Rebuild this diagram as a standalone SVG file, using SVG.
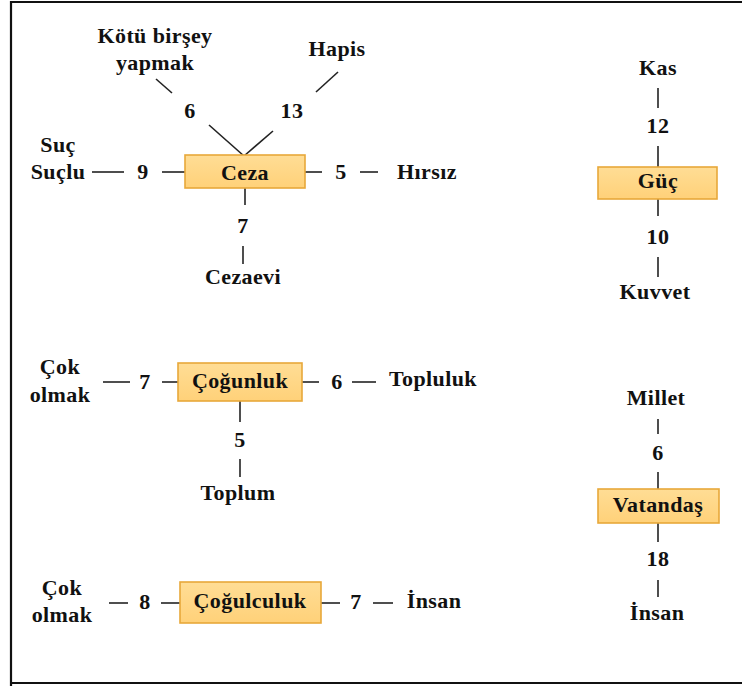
<svg xmlns="http://www.w3.org/2000/svg" width="742" height="686" viewBox="0 0 742 686">
<defs>
<linearGradient id="g" x1="0" y1="0" x2="0" y2="1">
<stop offset="0" stop-color="#FFDD95"/>
<stop offset="1" stop-color="#FFD179"/>
</linearGradient>
</defs>
<style>
text{font-family:'Liberation Serif','Times New Roman',serif;font-weight:bold;font-size:22px;letter-spacing:0.4px;fill:#111;text-anchor:middle}
.box{fill:url(#g);stroke:#E8A83A;stroke-width:1.6}
#connectors line{stroke:#222;stroke-width:1.6}
</style>
<rect x="0" y="0" width="742" height="686" fill="#fff"/>
<path d="M11,686 V2 H742 M11,683 H742" fill="none" stroke="#111" stroke-width="2.2"/>
<g id="connectors">
<line x1="156" y1="79" x2="172" y2="93"/>
<line x1="338" y1="72" x2="316" y2="92"/>
<line x1="209" y1="125" x2="244" y2="156"/>
<line x1="273" y1="131" x2="244" y2="156"/>
<line x1="92" y1="172" x2="124" y2="172"/>
<line x1="162" y1="172" x2="185" y2="172"/>
<line x1="305" y1="172" x2="322" y2="172"/>
<line x1="360" y1="172" x2="378" y2="172"/>
<line x1="245" y1="188" x2="245" y2="205"/>
<line x1="243" y1="246" x2="243" y2="264"/>
<line x1="658" y1="88" x2="658" y2="108"/>
<line x1="658" y1="146" x2="658" y2="167"/>
<line x1="658" y1="199" x2="658" y2="216"/>
<line x1="658" y1="257" x2="658" y2="277"/>
<line x1="103" y1="382" x2="130" y2="382"/>
<line x1="162" y1="382" x2="178" y2="382"/>
<line x1="302" y1="382" x2="319" y2="382"/>
<line x1="352" y1="382" x2="376" y2="382"/>
<line x1="240" y1="401" x2="240" y2="422"/>
<line x1="240" y1="459" x2="240" y2="477"/>
<line x1="658" y1="419" x2="658" y2="434"/>
<line x1="658" y1="472" x2="658" y2="489"/>
<line x1="658" y1="523" x2="658" y2="542"/>
<line x1="658" y1="580" x2="658" y2="597"/>
<line x1="109" y1="603" x2="128" y2="603"/>
<line x1="161" y1="603" x2="180" y2="603"/>
<line x1="321" y1="603" x2="340" y2="603"/>
<line x1="373" y1="603" x2="393" y2="603"/>
</g>
<g id="ceza">
<rect class="box" x="185" y="155" width="120" height="33"/>
<text x="245" y="180">Ceza</text>
</g>
<g id="kotu"><text x="155" y="43">Kötü birşey</text><text x="155" y="70">yapmak</text></g>
<g id="hapis"><text x="337" y="56">Hapis</text></g>
<g id="suc"><text x="58" y="152">Suç</text><text x="58" y="179">Suçlu</text></g>
<g id="hirsiz"><text x="427" y="179">Hırsız</text></g>
<g id="cezaevi"><text x="243" y="284">Cezaevi</text></g>
<g id="w-ceza">
<text x="190" y="118">6</text>
<text x="292" y="118">13</text>
<text x="143" y="179">9</text>
<text x="341" y="179">5</text>
<text x="243" y="233">7</text>
</g>
<g id="guc">
<rect class="box" x="598" y="167" width="119" height="32"/>
<text x="658" y="188">Güç</text>
</g>
<g id="kas"><text x="658" y="75">Kas</text></g>
<g id="kuvvet"><text x="655" y="299">Kuvvet</text></g>
<g id="w-guc"><text x="658" y="133">12</text><text x="658" y="244">10</text></g>
<g id="cogunluk">
<rect class="box" x="178" y="363" width="124" height="38"/>
<text x="240" y="388">Çoğunluk</text>
</g>
<g id="cok1"><text x="60" y="374">Çok</text><text x="60" y="402">olmak</text></g>
<g id="topluluk"><text x="433" y="386">Topluluk</text></g>
<g id="toplum"><text x="238" y="500">Toplum</text></g>
<g id="w-cogunluk"><text x="145" y="389">7</text><text x="337" y="389">6</text><text x="240" y="447">5</text></g>
<g id="cogulculuk">
<rect class="box" x="180" y="582" width="141" height="41"/>
<text x="250" y="608">Çoğulculuk</text>
</g>
<g id="cok2"><text x="62" y="595">Çok</text><text x="62" y="622">olmak</text></g>
<g id="insan1"><text x="434" y="608">İnsan</text></g>
<g id="w-cogulculuk"><text x="145" y="609">8</text><text x="356" y="609">7</text></g>
<g id="vatandas">
<rect class="box" x="598" y="489" width="121" height="34"/>
<text x="658" y="512">Vatandaş</text>
</g>
<g id="millet"><text x="656" y="405">Millet</text></g>
<g id="insan2"><text x="657" y="620">İnsan</text></g>
<g id="w-vatandas"><text x="658" y="460">6</text><text x="658" y="566">18</text></g>
</svg>
